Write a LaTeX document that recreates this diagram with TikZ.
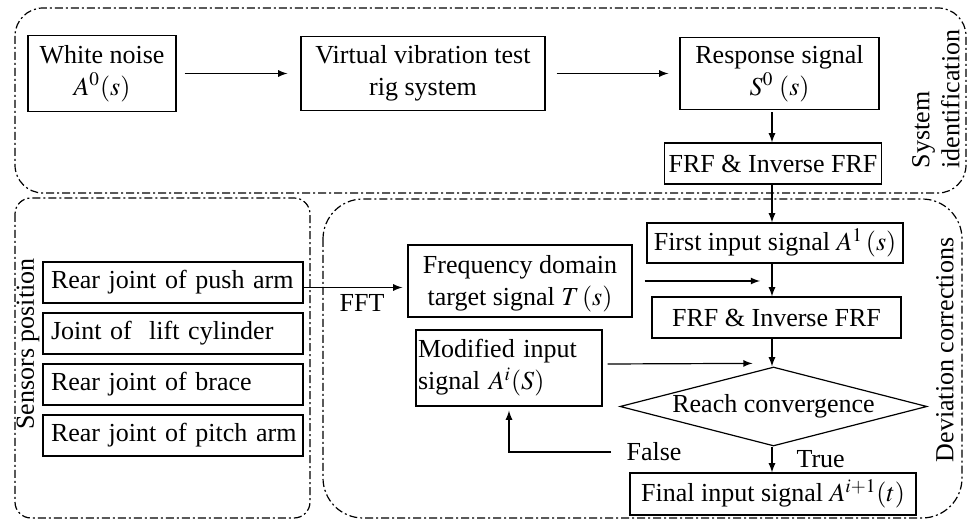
\documentclass[tikz,border=0pt]{standalone}
\usepackage{mathptmx}
\usepackage[no-math]{fontspec}
\setmainfont{Liberation Serif}
\usepackage{tikz}
\usetikzlibrary{shapes.geometric,positioning}
\tikzstyle{block} = [draw, rectangle, inner sep=2pt, align=center, font=\fontsize{13}{16}\selectfont]
\tikzstyle{sensor} = [block, inner xsep=2pt, text width=126pt, align=left, minimum height=20.5pt]
\tikzstyle{decision} = [draw, diamond, aspect=3.9, inner sep=0pt, minimum width=153.5pt, minimum height=39.5pt, font=\fontsize{13}{16}\selectfont]
\tikzstyle{group} = [dash pattern=on 4pt off 1.5pt on 1pt off 1.5pt]
\tikzstyle{tag} = [font=\fontsize{13}{16}\selectfont, inner sep=0pt]

\begin{document}
\begin{tikzpicture}[x=0.5pt, y=-0.5pt, auto, node distance=25.5pt, >=latex, line width=0.6pt]

\useasboundingbox (0,0) rectangle (968,522);

\coordinate (spine) at (772,0);

\node [block, minimum width=74pt, minimum height=38pt] (noise) at (102,73.5) {White noise\\$A^{0}(s)$};
\node [block, minimum width=122pt, minimum height=37pt, right of=noise, node distance=160.5pt] (rig) {Virtual vibration test\\rig system};
\node [block, minimum width=99.5pt, minimum height=36pt] (resp) at (779.5,73.5) {Response signal\\$S^{0}\;(s)$};
\node [block, minimum width=107pt, minimum height=20.5pt] (frfa) at (773,163.5) {FRF \& Inverse FRF};

\node [block, minimum width=128pt, minimum height=20pt] (first) at (775,243) {First input signal $A^{1}\,(s)$};
\node [block, minimum width=112pt, minimum height=36pt, text depth=1pt] (freq) at (520,281) {Frequency domain\\target signal $T\,(s)$};
\node [block, minimum width=124.5pt, minimum height=20.5pt] (frfb) at (776.5,317.5) {FRF \& Inverse FRF};
\node [block, inner xsep=1pt, text width=91pt, align=left, minimum height=38pt] (modif) at (509,368) {Modified input\\signal $A^{i}(S)$};
\node [decision] (conv) at (773.5,406.5) {Reach convergence};
\node [block, minimum width=143pt, minimum height=21pt] (final) at (773,494) {Final input signal $A^{i+1}(t)$};

\node [sensor] (push) at (173,282.5) {\hspace{2pt}Rear joint of push arm};
\node [sensor, below of=push] (lift) {\hspace{2pt}Joint of~ lift cylinder};
\node [sensor, below of=lift] (brace) {\hspace{2pt}Rear joint of brace};
\node [sensor, below of=brace] (pitch) {\hspace{2pt}Rear joint of pitch arm};

\draw [->, shorten <=4pt, shorten >=6.5pt] (noise) -- (rig);
\draw [->, shorten <=5.5pt, shorten >=5.5pt] (rig) -- (resp);
\draw [->, shorten <=1pt] (resp.south -| spine) -- (frfa.north -| spine);
\draw [->] (frfa.south -| spine) -- (first.north -| spine);
\draw [->] (first.south -| spine) -- (frfb.north -| spine);
\draw [->] (frfb.south -| spine) -- (conv.north -| spine);
\draw [->] (conv.south -| spine) -- node [tag, right, xshift=12pt] (true) {True} (final.north -| spine);
\draw [->] ([xshift=6pt]freq.east) -- ([xshift=-6pt]freq.east -| spine);
\draw [->] ([yshift=-2.5pt]push.east) -- node [tag, below, xshift=4.5pt, yshift=-3pt] (fft) {FFT} ([yshift=-2.5pt, xshift=-2.5pt]push.east -| freq.west);
\draw [->] ([xshift=2.5pt, yshift=2pt]modif.east) -- ([xshift=-10.5pt, yshift=1.5pt]conv.north);

\coordinate (falsept) at (611,452);
\draw [->, shorten >=2pt] (falsept) -| (modif.south);
\node [tag] (false) at (654,452) {False};

\coordinate (sysnw) at (15,8);
\coordinate (sysse) at (966,193);
\draw [group, rounded corners=14pt] (sysnw) rectangle (sysse);
\coordinate (sennw) at (15,198);
\coordinate (sense) at (310,518);
\draw [group, rounded corners=8pt] (sennw) rectangle (sense);
\coordinate (devnw) at (323,199);
\coordinate (devse) at (962,518);
\draw [group, rounded corners=20pt] (devnw) rectangle (devse);

\node [tag, rotate=90, align=left, font=\fontsize{13}{15}\selectfont] (sysname) at (936,99) {System\\identification};
\node [tag, rotate=90] (senname) at (28,344) {Sensors position};
\node [tag, rotate=90] (devname) at (945,350) {Deviation corrections};

\end{tikzpicture}
\end{document}
